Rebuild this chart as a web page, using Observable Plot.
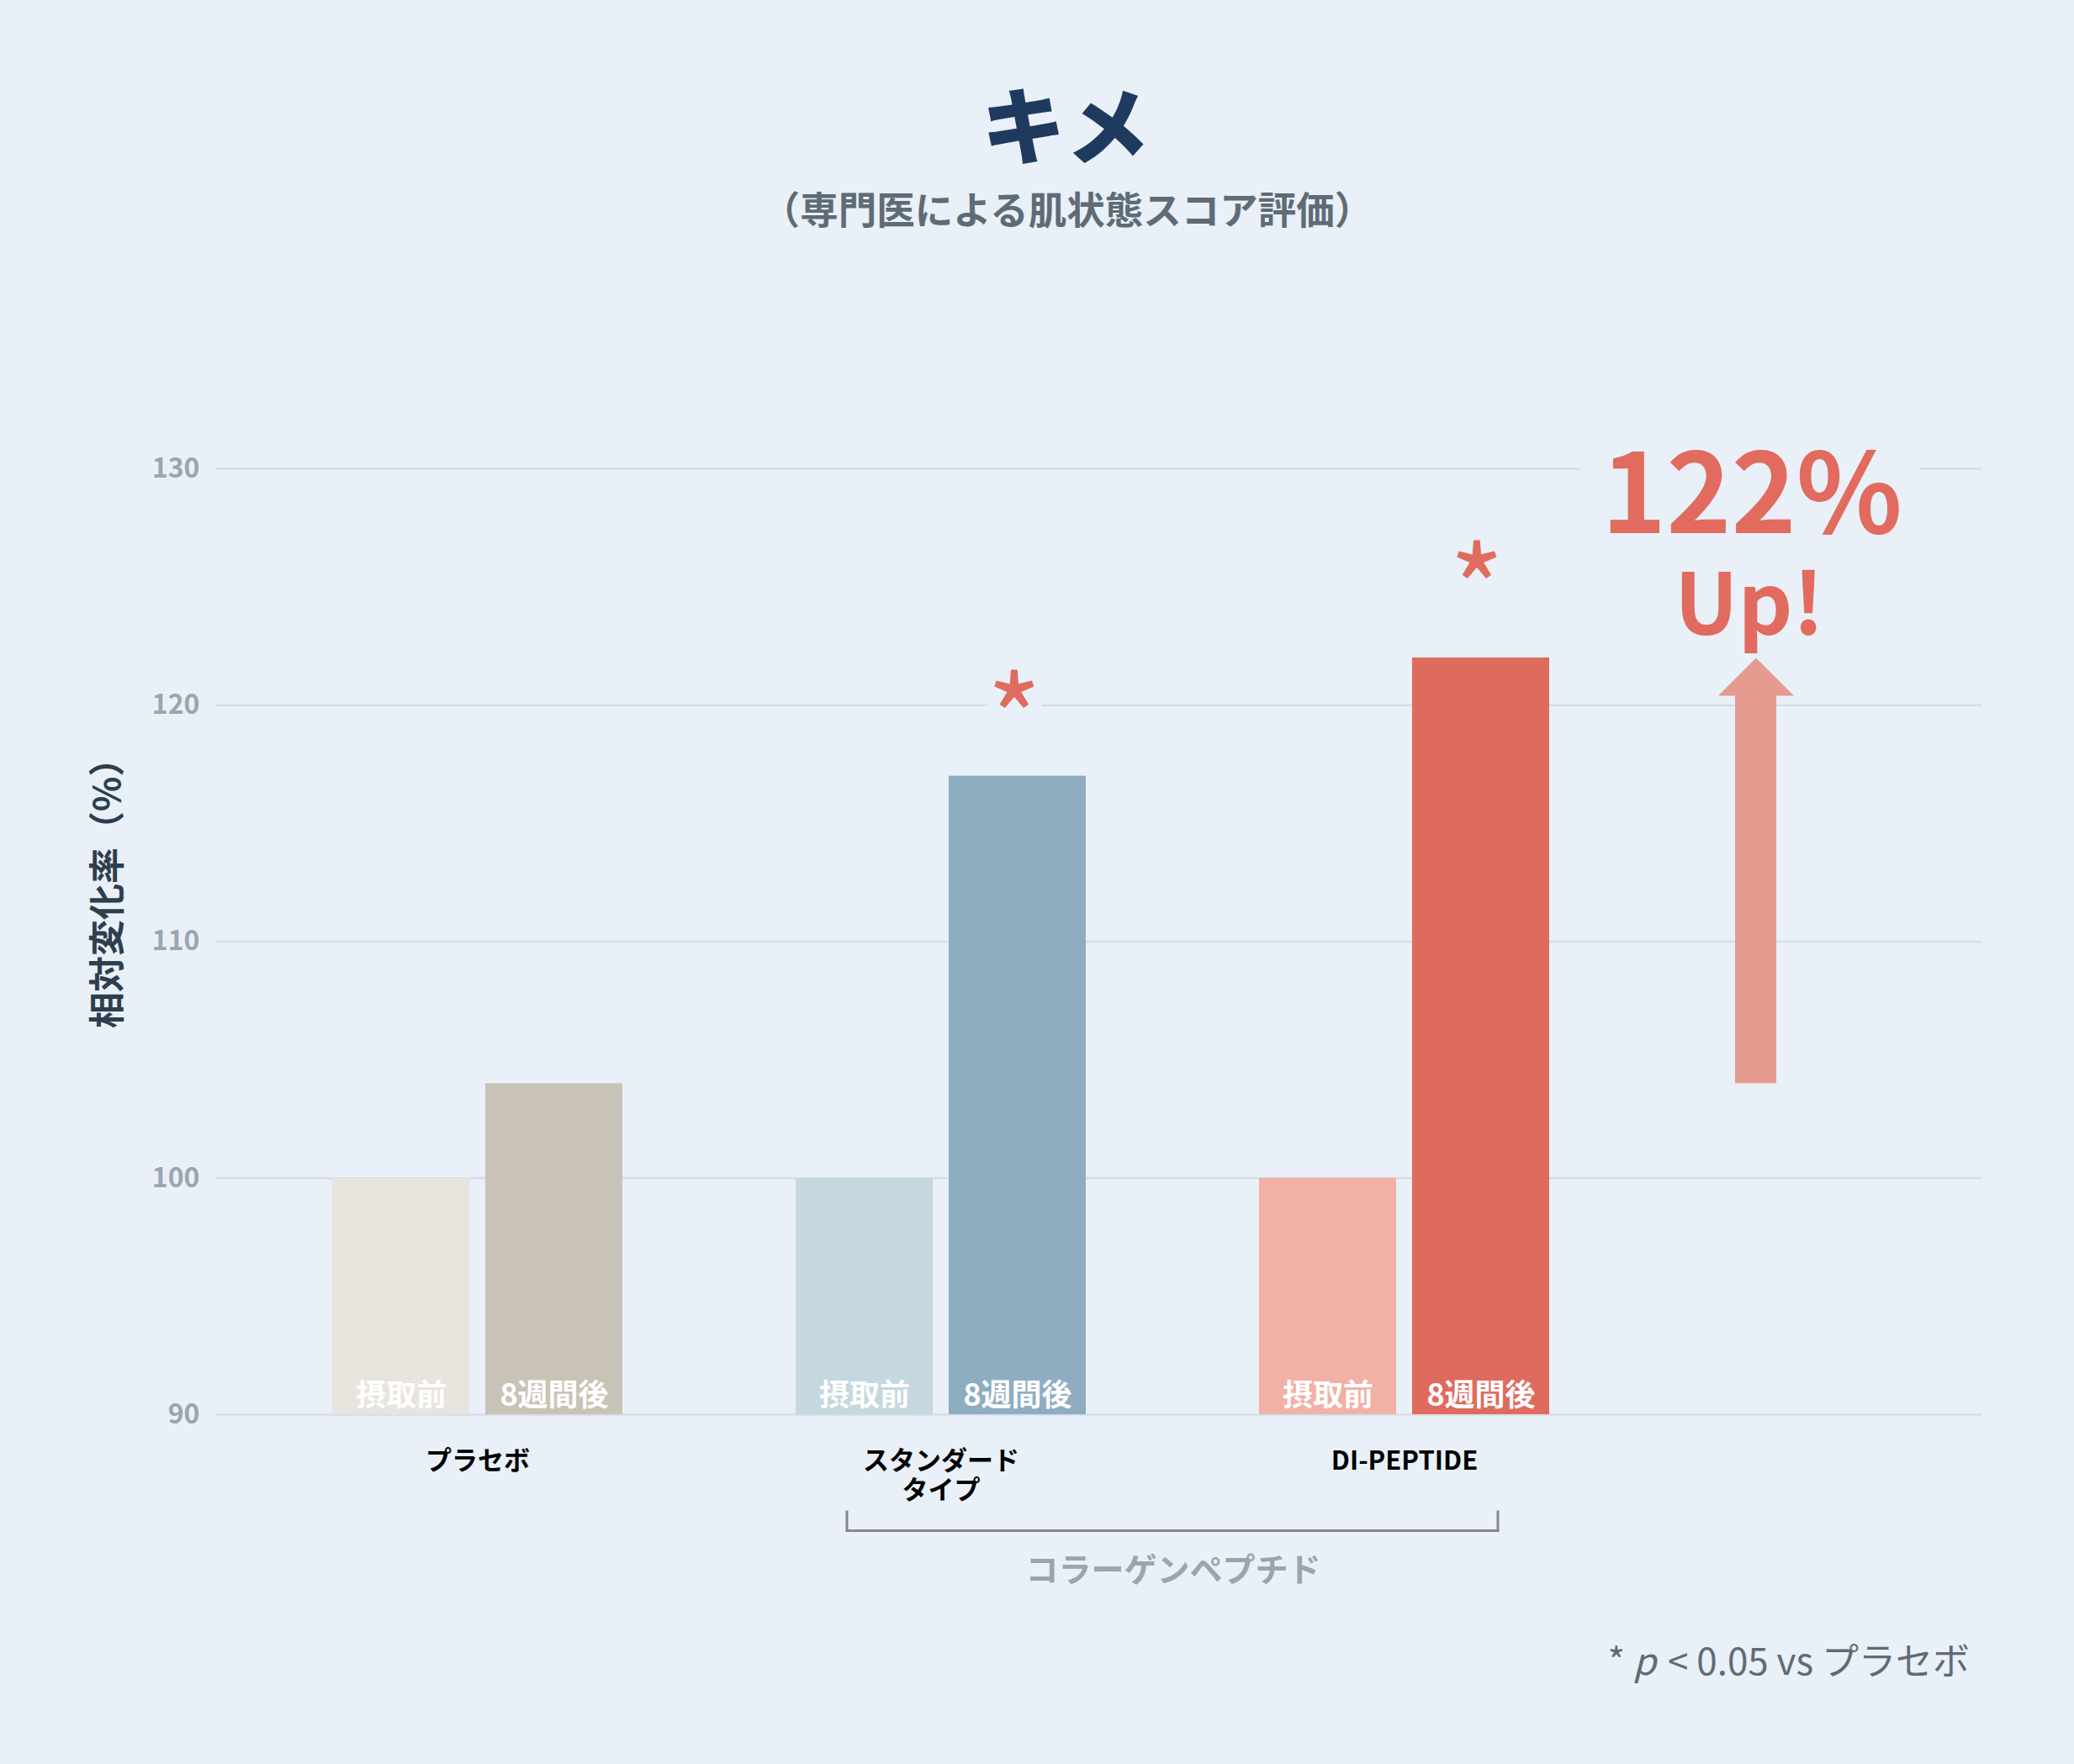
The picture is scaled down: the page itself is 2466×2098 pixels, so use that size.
<!DOCTYPE html>
<html lang="ja">
<head>
<meta charset="utf-8">
<script src="https://cdn.jsdelivr.net/npm/d3@7"></script>
<script src="https://cdn.jsdelivr.net/npm/@observablehq/plot@0.6"></script>
<style>
  html, body { margin: 0; padding: 0; background: #E9F0F7; }
  body { width: 2466px; height: 2098px; overflow: hidden; font-family: "Noto Sans CJK JP", "Noto Sans", sans-serif; }
  #header { position: relative; height: 300px; }
  #title { position: absolute; left: 1267px; top: 95px; transform: translateX(-50%); font-size: 100px; line-height: 100px; font-weight: 900; color: #1F3A5F; white-space: nowrap; }
  #subtitle { position: absolute; left: 1269px; top: 225px; transform: translateX(-50%); font-size: 45.5px; line-height: 45.5px; font-weight: 700; color: #5F6B75; white-space: nowrap; }
  #chart { height: 1620px; }
  #chart svg { display: block; }
  #footer { position: relative; height: 178px; }
  #note { position: absolute; right: 124px; top: 31px; font-size: 44px; line-height: 44px; color: #5F6B75; white-space: nowrap; }
  #note i { padding-right: 4px; }
</style>
</head>
<body>
<div id="header">
  <div id="title"></div>
  <div id="subtitle"></div>
</div>
<div id="chart"></div>
<div id="footer"><div id="note"></div></div>
<script>
// ---- data ----
const titleText = "キメ";
const subtitleText = "（専門医による肌状態スコア評価）";
const groups = ["プラセボ", "スタンダードタイプ", "DI-PEPTIDE"];
const groupLabels = ["プラセボ", "スタンダード\nタイプ", "DI-PEPTIDE"];
const phases = ["摂取前", "8週間後"];
const beforeValues = [100, 100, 100];
const afterValues = [104, 117, 122];
const significant = [false, true, true];
const yTicks = [90, 100, 110, 120, 130];
const yLabel = "相対変化率（%）";
const bracketLabel = "コラーゲンペプチド";
const highlightText = "122%";
const highlightSub = "Up!";
const starText = "*";

// ---- styles ----
const BG = "#E9F0F7";
const barColors = ["#E8E4DE", "#C9C3B7", "#C5D7DF", "#8FADC1", "#F2B0A6", "#DF6B5E"];
const accent = "#E06B5E";
const arrowColor = "#E69B90";

document.getElementById("title").textContent = titleText;
document.getElementById("subtitle").textContent = subtitleText;
document.getElementById("note").innerHTML = "* <i>p</i> &lt; 0.05 vs プラセボ";

const rows = groups.flatMap((g, i) => [
  {group: g, phase: phases[0], value: beforeValues[i], key: g + "|" + phases[0]},
  {group: g, phase: phases[1], value: afterValues[i], key: g + "|" + phases[1]}
]);
const beforeRows = rows.filter(d => d.phase === phases[0]);
const afterRows = rows.filter(d => d.phase === phases[1]);
const sigRows = afterRows.filter((d, i) => significant[i]);
const base = yTicks[0];
const arrowRow = {group: groups[2], from: afterValues[0], to: afterValues[2]};

const headSymbol = {
  draw(context) {
    context.moveTo(0, 0);
    context.lineTo(45, 45);
    context.lineTo(-45, 45);
    context.closePath();
  }
};

const starStyle = {x: "group", y: "value", text: () => starText, lineAnchor: "bottom", fontSize: 140, fontWeight: "normal",
  fill: accent, stroke: BG, strokeWidth: 30, strokeLinejoin: "round", paintOrder: "stroke"};

const chart = Plot.plot({
  width: 2466,
  height: 1620,
  marginTop: 257,
  marginBottom: 238,
  marginLeft: 256,
  marginRight: 110,
  style: {background: "transparent", fontFamily: "'Noto Sans CJK JP', 'Noto Sans', sans-serif", overflow: "visible"},
  x: {domain: groups, range: [395, 1843], paddingInner: 0.373, paddingOuter: 0, label: null},
  y: {domain: [yTicks[0], yTicks[yTicks.length - 1]], label: null},
  color: {type: "ordinal", domain: rows.map(d => d.key), range: barColors},
  marks: [
    Plot.gridY(yTicks, {stroke: "#D5DEE8", strokeOpacity: 1, strokeWidth: 2.5}),
    Plot.axisY(yTicks, {tickSize: 0, tickPadding: 19, fontSize: 32, fontWeight: "bold", color: "#9AA5AE", label: null}),
    Plot.axisX({tickSize: 0, tickPadding: 41, fontSize: 31, fontWeight: "bold", color: "#000000", label: null, lineHeight: 1.13,
      tickFormat: d => groupLabels[groups.indexOf(d)]}),
    Plot.text([yLabel], {frameAnchor: "left", textAnchor: "start", rotate: -90, dx: -127, dy: 103, fontSize: 43, fontWeight: "bold", fill: "#2E3E4E"}),

    Plot.barY(beforeRows, {x: "group", y1: base, y2: "value", fill: "key", insetRight: 182}),
    Plot.barY(afterRows, {x: "group", y1: base, y2: "value", fill: "key", insetLeft: 182}),

    Plot.text(beforeRows, {x: "group", y: base, text: "phase", dx: -91, dy: -11, lineAnchor: "bottom", fill: "#FFFFFF", fontSize: 36, fontWeight: "bold"}),
    Plot.text(afterRows, {x: "group", y: base, text: "phase", dx: 91, dy: -11, lineAnchor: "bottom", fill: "#FFFFFF", fontSize: 36, fontWeight: "bold"}),

    Plot.text([sigRows[0]], {...starStyle, dx: 87, dy: -15}),
    Plot.text([sigRows[1]], {...starStyle, dx: 86, dy: -29}),

    Plot.text([arrowRow], {x: "group", y: "to", text: () => highlightText, dx: 413, dy: -149, lineAnchor: "bottom", fontSize: 131, fontWeight: "bold", fill: accent, stroke: BG, strokeWidth: 80, strokeLinejoin: "round", paintOrder: "stroke"}),
    Plot.text([arrowRow], {x: "group", y: "to", text: () => highlightSub, dx: 410, dy: -28, lineAnchor: "bottom", fontSize: 101, fontWeight: "bold", fill: accent}),

    Plot.barY([arrowRow], {x: "group", y1: "from", y2: "to", insetTop: 45, insetLeft: 148, insetRight: 148, dx: 418, fill: arrowColor}),
    Plot.dot([arrowRow], {x: "group", y: "to", dx: 418, symbol: headSymbol, r: 1, fill: arrowColor, stroke: "none"}),

    Plot.ruleY([{a: groups[1], b: groups[2]}], {x1: "a", x2: "b", y: base, dy: 138, insetLeft: 61, insetRight: 61, stroke: "#888888", strokeWidth: 3, strokeLinecap: "square"}),
    Plot.ruleX([groups[1]], {x: d => d, y1: base, y2: base, dx: -112, dy: 116, insetBottom: -22, stroke: "#888888", strokeWidth: 3, strokeLinecap: "square"}),
    Plot.ruleX([groups[2]], {x: d => d, y1: base, y2: base, dx: 111, dy: 116, insetBottom: -22, stroke: "#888888", strokeWidth: 3, strokeLinecap: "square"}),
    Plot.text([bracketLabel], {x: () => groups[1], y: base, dx: 276, dy: 186, fontSize: 39, fontWeight: "bold", fill: "#9AA5AE"})
  ]
});
document.getElementById("chart").appendChild(chart);
</script>
</body>
</html>
